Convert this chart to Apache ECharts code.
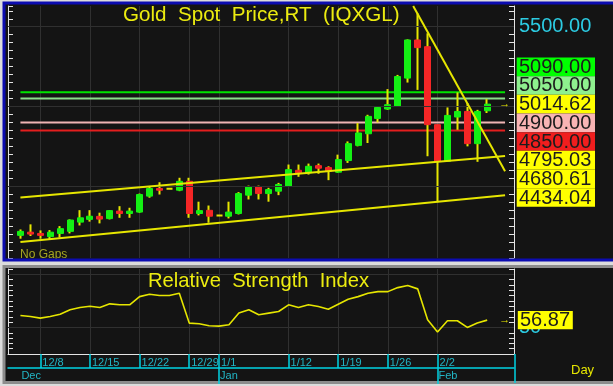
<!DOCTYPE html>
<html><head><meta charset="utf-8">
<script src="https://cdn.jsdelivr.net/npm/echarts@6/dist/echarts.min.js"></script>
<style>html,body{margin:0;padding:0;background:#dcdcdc;overflow:hidden}#c{width:613px;height:386px}</style>
</head><body><div id="c"></div>
<script>
const dates = ['12/4','12/5','12/8','12/9','12/10','12/11','12/12','12/15','12/16','12/17','12/18','12/19','12/22','12/23','12/24','12/25','12/26','12/29','12/30','12/31','1/1','1/2','1/5','1/6','1/7','1/8','1/9','1/12','1/13','1/14','1/15','1/16','1/19','1/20','1/21','1/22','1/23','1/26','1/27','1/28','1/29','1/30','2/2','2/3','2/4','2/5','2/6','2/9'];
const openP  = [4192,4212,4204,4184,4204,4217,4275,4292,4311,4297,4344,4329,4338,4438,4486,4484,4475,4531,4329,4349,4317,4312,4329,4444,4496,4454,4469,4500,4600,4584,4629,4617,4588,4661,4756,4829,4925,4984,5000,5178,5417,5375,4886,4656,4934,4969,4767,4973];
const closeP = [4217,4200,4192,4212,4234,4288,4302,4312,4294,4347,4329,4344,4448,4486,4475,4484,4531,4329,4347,4312,4317,4338,4454,4496,4454,4479,4511,4604,4584,4625,4613,4594,4667,4767,4834,4938,4994,5011,5188,5417,5369,4886,4656,4944,4969,4767,4969,5014.62];
const lowP   = [4171,4188,4171,4167,4178,4204,4254,4278,4267,4292,4302,4302,4334,4428,4448,4484,4469,4302,4317,4271,4317,4298,4323,4417,4417,4403,4444,4500,4559,4573,4578,4538,4584,4646,4750,4771,4900,4979,5000,5150,5104,4688,4400,4656,4854,4750,4653,4959];
const highP  = [4229,4261,4223,4225,4250,4292,4350,4350,4334,4350,4375,4365,4454,4496,4525,4484,4553,4553,4403,4379,4317,4403,4463,4504,4504,4490,4521,4636,4636,4642,4642,4625,4698,4781,4896,4948,5000,5109,5198,5421,5584,5459,4886,4994,5088,5021,4979,5046];
const rsi = [61.2,60.3,58.8,60.3,62.5,66.6,68.7,70,68.7,72.2,71.3,71.3,79,81.3,80,80,82.2,54.1,53.5,51.6,51.2,52.5,63.5,66.6,62,63.5,65,71.3,68.7,71.3,69.7,67.2,71.9,76.6,79,82.2,83.7,83.7,87.5,89.4,86.3,57.2,45.7,56.3,56.3,50,54.1,56.87];
const levelValues = [5090, 5050, 4900, 4850];
const levelColors = ['#00e400', '#8cdc8c', '#f0b4b4', '#e41e1e'];
const levelSpan = [0, 48.8];
const upperChannel = [[0, 4430], [48.8, 4690]];
const lowerChannel = [[0, 4150], [48.8, 4443]];
const downTrend = [[39.55, 5630], [48.8, 4594]];
const tagValues = [5090, 5050, 5014.62, 4900, 4850, 4795.03, 4680.61, 4434.04];
const tagColors = ['#00ff00', '#8ef08e', '#ffff00', '#f8b4b4', '#f01e1e', '#ffff00', '#ffff00', '#ffff00'];
const weekTickIdx = [2, 7, 12, 17, 20, 27, 32, 37, 42];
const monthIdx = [0, 20, 42];
const monthNames = ['Dec', 'Jan', 'Feb'];
const priceLabelValues = [5500];
const rsiLabelValues = [50];
const priceGridValues = [4500, 5000, 5500];
const rsiGridValues = [50, 100];

const FONT = '"Liberation Sans", Arial, sans-serif';
const YEL = '#e6e600';
const CYAN = '#00d2e2';
const xMin = -1.25, xMax = 49.7;
const lastClose = closeP[closeP.length - 1];
const lastRsi = rsi[rsi.length - 1];

const chart = echarts.init(document.getElementById('c'), null, {renderer: 'canvas'});

const wickData = dates.map((d, i) => [i, openP[i], closeP[i], lowP[i], highP[i]]);
const bodyData = dates.map((d, i) => {
  const o = openP[i], c = closeP[i];
  const v = [i, o, c, Math.min(o, c), Math.max(o, c)];
  if (o === c) {
    return {value: v, itemStyle: {color: YEL, color0: YEL, borderColor: YEL, borderColor0: YEL, borderColorDoji: YEL, borderWidth: 2}};
  }
  return v;
});

const series = [];
series.push({
  type: 'line', xAxisIndex: 0, yAxisIndex: 0, data: [], silent: true, z: 1,
  markLine: {silent: true, symbol: 'none', label: {show: false},
    lineStyle: {color: '#303030', width: 1, type: 'solid'},
    data: priceGridValues.map(v => ({yAxis: v}))}
});
levelValues.forEach((v, k) => {
  series.push({type: 'line', xAxisIndex: 0, yAxisIndex: 0, silent: true, symbol: 'none', z: 2,
    data: levelSpan.map(x => [x, v]), lineStyle: {color: levelColors[k], width: 2}});
});
series.push({
  type: 'candlestick', xAxisIndex: 0, yAxisIndex: 0, silent: true, z: 3,
  encode: {x: 0, y: [1, 2, 3, 4]}, barWidth: 1,
  itemStyle: {color: YEL, color0: YEL, borderColor: YEL, borderColor0: YEL, borderColorDoji: YEL, borderWidth: 2},
  data: wickData
});
series.push({
  type: 'candlestick', xAxisIndex: 0, yAxisIndex: 0, silent: true, z: 4,
  encode: {x: 0, y: [1, 2, 3, 4]}, barWidth: 6.5,
  itemStyle: {color: '#14f014', color0: '#f52626', borderColor: '#14f014', borderColor0: '#f52626', borderWidth: 1},
  data: bodyData
});
[upperChannel, lowerChannel, downTrend].forEach(seg => {
  series.push({type: 'line', xAxisIndex: 0, yAxisIndex: 0, silent: true, symbol: 'none', z: 5,
    data: seg, lineStyle: {color: YEL, width: 2}});
});
series.push({
  type: 'line', xAxisIndex: 1, yAxisIndex: 2, silent: true, symbol: 'none', z: 5,
  data: rsi.map((v, i) => [i, v]), lineStyle: {color: YEL, width: 1.6},
  markLine: {silent: true, symbol: 'none', label: {show: false},
    lineStyle: {color: '#303030', width: 1, type: 'solid'},
    data: rsiGridValues.map(v => ({yAxis: v}))}
});

const whiteLine = {show: true, onZero: false, lineStyle: {color: '#e4e4e4', width: 1}};
const option = {
  animation: false,
  backgroundColor: 'transparent',
  textStyle: {fontFamily: FONT},
  title: [
    {text: 'Gold  Spot  Price,RT  (IQXGL)', left: 123, top: 5, padding: 0,
      textStyle: {color: '#ecec10', fontSize: 20.6, fontWeight: 'normal', fontFamily: FONT}},
    {text: 'Relative  Strength  Index', left: 148, top: 271, padding: 0,
      textStyle: {color: '#ecec10', fontSize: 20.2, fontWeight: 'normal', fontFamily: FONT}}
  ],
  grid: [
    {left: 8, top: 6, width: 506, height: 252, containLabel: false, outerBoundsMode: 'none'},
    {left: 8, top: 269, width: 506, height: 85, containLabel: false, outerBoundsMode: 'none'}
  ],
  xAxis: [
    {gridIndex: 0, type: 'value', min: xMin, max: xMax, axisLine: {show: false, onZero: false},
      axisTick: {show: false, customValues: weekTickIdx}, axisLabel: {show: false},
      splitLine: {show: true, lineStyle: {color: '#303030', width: 1}}},
    {gridIndex: 1, type: 'value', min: xMin, max: xMax, position: 'bottom', axisLine: whiteLine,
      axisTick: {show: true, inside: false, customValues: weekTickIdx, length: 14, lineStyle: {color: CYAN, width: 1.5}},
      axisLabel: {show: true, customValues: weekTickIdx, formatter: v => dates[Math.round(v)],
        color: '#22b6c6', fontSize: 11, align: 'left', margin: 3, padding: [0, 0, 0, 2], fontFamily: FONT},
      splitLine: {show: true, lineStyle: {color: '#303030', width: 1}}},
    {gridIndex: 1, type: 'value', min: xMin, max: xMax, position: 'bottom', offset: 14,
      axisLine: {show: true, onZero: false, lineStyle: {color: CYAN, width: 1.5}},
      axisTick: {show: true, inside: false, customValues: monthIdx.slice(1), length: 16, lineStyle: {color: CYAN, width: 1.5}},
      axisLabel: {show: true, customValues: monthIdx, formatter: v => monthNames[monthIdx.indexOf(Math.round(v))],
        color: '#22b6c6', fontSize: 11, align: 'left', margin: 2, padding: [0, 0, 0, 1], fontFamily: FONT},
      splitLine: {show: false}}
  ],
  yAxis: [
    {gridIndex: 0, type: 'value', position: 'right', min: 4050, max: 5630, interval: 50,
      axisLine: whiteLine, axisTick: {show: true, inside: true, length: 5, lineStyle: {color: '#e4e4e4'}},
      axisLabel: {show: true, customValues: priceLabelValues, formatter: v => Number(v).toFixed(2),
        color: '#2ccbe2', fontSize: 20, margin: 5, fontFamily: FONT},
      splitLine: {show: false}},
    {gridIndex: 0, type: 'value', position: 'left', min: 4050, max: 5630, interval: 50,
      axisLine: whiteLine, axisTick: {show: true, inside: true, length: 5, lineStyle: {color: '#e4e4e4'}},
      axisLabel: {show: false}, splitLine: {show: false}},
    {gridIndex: 1, type: 'value', position: 'right', min: 25, max: 105, interval: 5,
      axisLine: whiteLine, axisTick: {show: true, inside: true, length: 5, lineStyle: {color: '#e4e4e4'}},
      axisLabel: {show: true, customValues: rsiLabelValues, formatter: v => String(v),
        color: '#2ccbe2', fontSize: 20, margin: 5, fontFamily: FONT},
      splitLine: {show: false}},
    {gridIndex: 1, type: 'value', position: 'left', min: 25, max: 105, interval: 5,
      axisLine: whiteLine, axisTick: {show: true, inside: true, length: 5, lineStyle: {color: '#e4e4e4'}},
      axisLabel: {show: false}, splitLine: {show: false}}
  ],
  series: series
};
chart.setOption(option);

// annotation boxes positioned through the chart's own scales
const yLast = chart.convertToPixel({yAxisIndex: 0}, lastClose);
const yRsi = chart.convertToPixel({yAxisIndex: 2}, lastRsi);
const xLast = chart.convertToPixel({xAxisIndex: 0}, closeP.length - 1);
const boxH = 18.67;
const lastIdx = tagValues.indexOf(lastClose);
const els = [
  {type: 'rect', z: -10, shape: {x: 4, y: 3, width: 620, height: 257}, style: {fill: '#141414'}},
  {type: 'rect', z: -10, shape: {x: 4, y: 266.5, width: 620, height: 116}, style: {fill: '#141414', stroke: '#8c8c8c', lineWidth: 3}},
  {type: 'text', z: 40, style: {text: 'No Gaps', x: 20, y: 255, fill: '#a6a622', font: '12px ' + FONT, verticalAlign: 'middle', textVerticalAlign: 'middle'}},
  {type: 'rect', z: 50, shape: {x: 4, y: 3, width: 620, height: 257}, style: {fill: 'none', stroke: '#0c0cb0', lineWidth: 3}},
  {type: 'line', z: 50, shape: {x1: 515, y1: 354, x2: 515, y2: 383}, style: {stroke: CYAN, lineWidth: 1.5}},
  {type: 'text', z: 50, style: {text: 'Day', x: 571, y: 370, fill: '#e6e600', font: '13px ' + FONT, verticalAlign: 'middle', textVerticalAlign: 'middle'}},
  {type: 'text', z: 50, style: {text: '→', x: xLast + 12, y: yLast, fill: YEL, font: '11px ' + FONT, verticalAlign: 'middle', textVerticalAlign: 'middle'}},
  {type: 'text', z: 50, style: {text: '→', x: xLast + 12, y: yRsi, fill: YEL, font: '11px ' + FONT, verticalAlign: 'middle', textVerticalAlign: 'middle'}}
];
tagValues.forEach((v, k) => {
  const top = yLast - boxH / 2 + (k - lastIdx) * boxH;
  els.push({type: 'rect', z: 60, shape: {x: 516.7, y: top, width: 78.3, height: boxH}, style: {fill: tagColors[k]}});
  els.push({type: 'text', z: 61, style: {text: v.toFixed(2), x: 519, y: top + boxH / 2 + 0.5, fill: '#1c1c1c',
    font: '20px ' + FONT, verticalAlign: 'middle', textVerticalAlign: 'middle'}});
});
els.push({type: 'rect', z: 60, shape: {x: 517.8, y: yRsi - 9.2, width: 55, height: 18.4}, style: {fill: '#ffff00'}});
els.push({type: 'text', z: 61, style: {text: lastRsi.toFixed(2), x: 520, y: yRsi + 0.5, fill: '#1c1c1c',
  font: '20px ' + FONT, verticalAlign: 'middle', textVerticalAlign: 'middle'}});
chart.setOption({graphic: {elements: els}});
</script></body></html>
